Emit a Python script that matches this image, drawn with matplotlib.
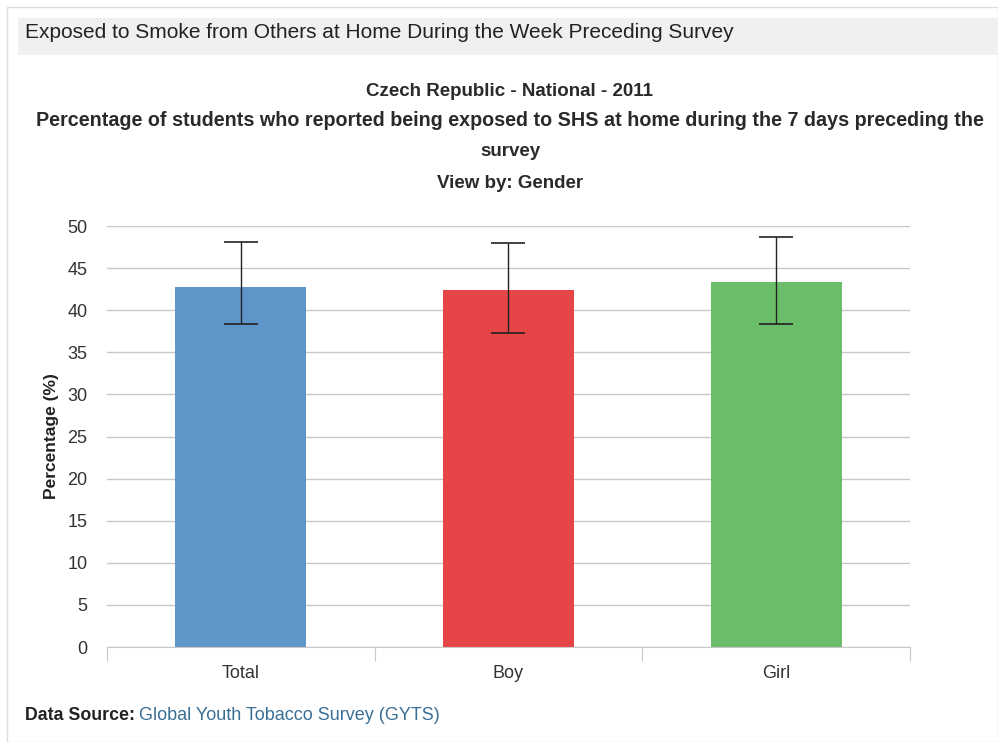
import numpy as np
import matplotlib.pyplot as plt
from matplotlib.patches import Rectangle

plt.rcParams['font.family'] = ['Liberation Sans', 'DejaVu Sans']

# Exposure to second-hand smoke at home, by gender
categories = ["Total", "Boy", "Girl"]
values = [42.8, 42.4, 43.4]
ci_low = [38.4, 37.3, 38.4]
ci_high = [48.1, 48.0, 48.7]
colors = ["#5E96C9", "#E64548", "#6CBD6A"]

fig = plt.figure(figsize=(9.98, 7.42), dpi=100)

# page frame and header band
fig.add_artist(Rectangle((7 / 998, 0), 991 / 998, 1 - 7 / 742, transform=fig.transFigure,
                         facecolor="white", edgecolor="#dddddd", linewidth=1, zorder=-10))
fig.add_artist(Rectangle((18 / 998, 1 - 55 / 742), 980 / 998, 37 / 742, transform=fig.transFigure,
                         facecolor="#f0f0f0", edgecolor="none", zorder=-9))
fig.text(25 / 998, 1 - 33 / 742, "Exposed to Smoke from Others at Home During the Week Preceding Survey",
         fontsize=15, color="#222222", va="center", ha="left")

# titles
fig.text(510 / 998, 1 - 92 / 742, "Czech Republic - National - 2011", fontsize=13.5,
         fontweight="bold", ha="center", va="center", color="#2a2a2a")
fig.text(510 / 998, 1 - 121 / 742,
         "Percentage of students who reported being exposed to SHS at home during the 7 days preceding the",
         fontsize=14.2, fontweight="bold", ha="center", va="center", color="#2a2a2a")
fig.text(510 / 998, 1 - 152 / 742, "survey", fontsize=13.5, fontweight="bold",
         ha="center", va="center", color="#2a2a2a")
fig.text(510 / 998, 1 - 183 / 742, "View by: Gender", fontsize=13.5, fontweight="bold",
         ha="center", va="center", color="#2a2a2a")

ax = fig.add_axes([107 / 998, 1 - 647 / 742, 803 / 998, 421 / 742])
ax.set_zorder(1)
x = np.arange(len(categories))
yerr = [np.array(values) - np.array(ci_low), np.array(ci_high) - np.array(values)]
ax.bar(x, values, width=0.49, color=colors, zorder=2)
ax.errorbar(x, values, yerr=yerr, fmt="none", ecolor="#222222", elinewidth=1,
            capsize=12, capthick=1.2, zorder=3)

ax.set_xlim(-0.5, 2.5)
ax.set_ylim(0, 50)
ax.set_yticks(np.arange(0, 51, 5))
ax.grid(axis="y", color="#c8c8c8", linewidth=1, zorder=0)
for s in ["top", "right", "left"]:
    ax.spines[s].set_visible(False)
ax.spines["bottom"].set_color("#c8c8c8")

# category separators on the x axis
ax.set_xticks([-0.5, 0.5, 1.5, 2.5])
ax.set_xticklabels([])
ax.tick_params(axis="x", length=10, color="#c8c8c8", direction="out")
ax.set_xticks(x, minor=True)
ax.set_xticklabels(categories, minor=True)
ax.tick_params(axis="x", which="minor", length=0, pad=13, labelsize=13, labelcolor="#333333")
ax.tick_params(axis="y", length=0, pad=14, labelsize=13, labelcolor="#333333")
ax.set_ylabel("Percentage (%)", fontsize=12.5, fontweight="bold", color="#222222", labelpad=6)

fig.text(25 / 998, 1 - 716 / 742, "Data Source:", fontsize=12.8, fontweight="bold",
         color="#222222", va="center", ha="left")
fig.text(139 / 998, 1 - 716 / 742, "Global Youth Tobacco Survey (GYTS)", fontsize=13,
         color="#3a6f96", va="center", ha="left")

plt.savefig("out.png", dpi=100)
plt.close()
